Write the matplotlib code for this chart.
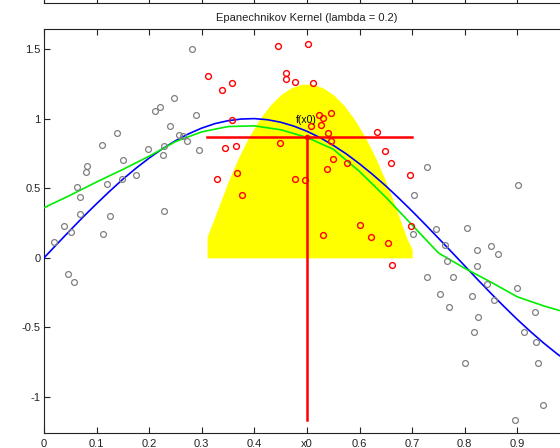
import matplotlib
matplotlib.use("Agg")
import matplotlib.pyplot as plt
import numpy as np

plt.rcParams['font.family'] = ['Liberation Sans', 'DejaVu Sans']
plt.rcParams['axes.unicode_minus'] = False

# --- data -----------------------------------------------------------------
x_data = [0.281, 0.248, 0.2205, 0.2116, 0.2896, 0.240, 0.139, 0.257, 0.265, 0.271,
          0.111, 0.295, 0.198, 0.229, 0.227, 0.151, 0.0817, 0.079, 0.174, 0.148,
          0.120, 0.0636, 0.0678, 0.229, 0.0678, 0.125, 0.038, 0.0513, 0.1116, 0.019,
          0.046, 0.057,
          0.3125, 0.338, 0.328, 0.445, 0.501, 0.357, 0.4595, 0.461, 0.477, 0.512,
          0.545, 0.523, 0.530, 0.507, 0.526, 0.357, 0.540, 0.6325, 0.546, 0.448,
          0.344, 0.365, 0.549, 0.576, 0.538, 0.366, 0.477, 0.497, 0.377, 0.601,
          0.530, 0.6217, 0.649, 0.660, 0.696, 0.698, 0.654, 0.662,
          0.7275, 0.902, 0.704, 0.745, 0.804, 0.702, 0.763, 0.850, 0.824, 0.863,
          0.766, 0.824, 0.729, 0.777, 0.842, 0.900, 0.752, 0.813, 0.856, 0.770,
          0.9335, 0.826, 0.818, 0.912, 0.935, 0.8004, 0.939, 0.949, 0.895]
y_data = [1.498, 1.149, 1.087, 1.053, 1.029, 0.948, 0.897, 0.879, 0.874, 0.838,
          0.807, 0.773, 0.780, 0.800, 0.740, 0.704, 0.663, 0.615, 0.594, 0.565,
          0.527, 0.508, 0.438, 0.340, 0.316, 0.302, 0.230, 0.189, 0.172, 0.113,
          -0.115, -0.170,
          1.307, 1.209, 0.565, 1.522, 1.539, 1.259, 1.326, 1.281, 1.266, 1.256,
          1.039, 1.024, 1.008, 0.950, 0.955, 0.991, 0.900, 0.905, 0.838, 0.826,
          0.790, 0.800, 0.709, 0.680, 0.637, 0.606, 0.565, 0.556, 0.455, 0.235,
          0.165, 0.149, 0.768, 0.682, 0.596, 0.232, 0.108, -0.048,
          0.653, 0.522, 0.450, 0.204, 0.218, 0.168, 0.093, 0.084, 0.053, 0.027,
          -0.026, -0.060, -0.141, -0.134, -0.187, -0.220, -0.261, -0.277, -0.306, -0.354,
          -0.392, -0.428, -0.531, -0.536, -0.603, -0.754, -0.758, -1.055, -1.165]

# true function
x_true = [0.0, 0.025, 0.05, 0.075, 0.1, 0.125, 0.15, 0.175, 0.2, 0.225,
          0.25, 0.275, 0.3, 0.325, 0.35, 0.375, 0.4, 0.425, 0.45, 0.475,
          0.5, 0.525, 0.55, 0.575, 0.6, 0.625, 0.65, 0.675, 0.7, 0.725,
          0.75, 0.775, 0.8, 0.825, 0.85, 0.875, 0.9, 0.925, 0.95, 0.975, 1.0]
y_true = [0.0, 0.10, 0.199, 0.296, 0.389, 0.479, 0.565, 0.644, 0.717, 0.783,
          0.841, 0.891, 0.932, 0.964, 0.985, 0.997, 1.0, 0.992, 0.974, 0.946,
          0.909, 0.863, 0.808, 0.746, 0.675, 0.598, 0.516, 0.427, 0.335, 0.239,
          0.141, 0.042, -0.058, -0.158, -0.256, -0.351, -0.443, -0.530, -0.612, -0.688, -0.757]

# kernel-weighted fit
x_fit = [0.0, 0.05, 0.1, 0.15, 0.2, 0.25, 0.3, 0.35, 0.4, 0.45,
         0.5, 0.55, 0.6, 0.65, 0.7, 0.75, 0.8, 0.85, 0.9, 0.95, 1.0]
y_fit = [0.36, 0.45, 0.545, 0.635, 0.73, 0.835, 0.905, 0.943, 0.948, 0.92,
         0.865, 0.78, 0.62, 0.435, 0.235, 0.035, -0.075, -0.175, -0.28, -0.345, -0.40]

# Epanechnikov kernel weights around x0
x_kern = [0.31, 0.33, 0.35, 0.37, 0.39, 0.41, 0.43, 0.45, 0.47, 0.49,
          0.51, 0.53, 0.55, 0.57, 0.59, 0.61, 0.63, 0.65, 0.67, 0.69, 0.70]
h_kern = [0.15, 0.347, 0.547, 0.722, 0.872, 0.997, 1.097, 1.172, 1.222, 1.247,
          1.247, 1.222, 1.172, 1.097, 0.997, 0.872, 0.722, 0.547, 0.347, 0.14, 0.06]

x0 = 0.5
lam = 0.2
fx0 = 0.865

xticks = [0, 0.1, 0.2, 0.3, 0.4, 0.5, 0.6, 0.7, 0.8, 0.9, 1.0]
xtick_labels = ['0', '0.1', '0.2', '0.3', '0.4', 'x0', '0.6', '0.7', '0.8', '0.9', '']
yticks = [-1, -0.5, 0, 0.5, 1, 1.5]
ytick_labels = ['-1', '-0.5', '0', '0.5', '1', '1.5']

# --- figure ---------------------------------------------------------------
W, H = 560, 448
fig = plt.figure(figsize=(W / 100, H / 100), dpi=100)

left = 44 / W
width = 526 / W
bottom = (H - 433.3) / H
top = (H - 29.5) / H

ax = fig.add_axes([left, bottom, width, top - bottom])

ax.fill_between(x_kern, 0, h_kern, color='#ffff00', linewidth=0, zorder=1)
ax.plot(x_true, y_true, color='#0000ff', linewidth=1.2, zorder=3)
ax.plot(x_fit, y_fit, color='#00ee00', linewidth=1.2, zorder=3)

xa = np.array(x_data)
ya = np.array(y_data)
inside = np.abs(xa - x0) <= lam
ax.plot(xa[~inside], ya[~inside], 'o', mfc='none', mec='#808080', ms=4.2, mew=0.9, zorder=4)
ax.plot(xa[inside], ya[inside], 'o', mfc='none', mec='#ff0000', ms=4.2, mew=1.0, zorder=4)

ax.plot([x_kern[0], x_kern[-1]], [fx0, fx0], color='#ff0000', linewidth=1.8, zorder=5)
ax.plot([x0, x0], [min(y_data), fx0], color='#ff0000', linewidth=1.8, zorder=5)
ax.plot([x0], [fx0], 'o', color='#ff0000', ms=3, zorder=6)
ax.text(0.479, 0.99, 'f(x0)', fontsize=7.5, ha='left', va='center', zorder=6)

ax.set_xlim(0, 1)
ax.set_ylim(-1.26, 1.64)
ax.set_xticks(xticks)
ax.set_xticklabels(xtick_labels)
ax.set_yticks(yticks)
ax.set_yticklabels(ytick_labels)
ax.tick_params(direction='in', length=4.3, width=0.8, labelsize=8, top=True, right=True,
               color='#222222', labelcolor='#222222')
ax.tick_params(axis='x', pad=4)
ax.tick_params(axis='y', pad=2.5)
for s in ax.spines.values():
    s.set_linewidth(0.8)
    s.set_color('#222222')

# lower edge of the panel above
ax_up = fig.add_axes([left, (H - 3) / H, width, 0.4])
ax_up.set_xlim(0, 1)
ax_up.set_xticks(xticks)
ax_up.set_xticklabels([])
ax_up.set_yticks([])
ax_up.tick_params(direction='in', length=4.3, width=0.8, color='#222222')
for s in ax_up.spines.values():
    s.set_linewidth(0.8)
    s.set_color('#222222')

fig.text(left + width / 2, 1 - 17.9 / H, 'Epanechnikov Kernel (lambda = 0.2)',
         ha='center', va='center', fontsize=8, color='#222222')

fig.savefig('out.png', dpi=100)
